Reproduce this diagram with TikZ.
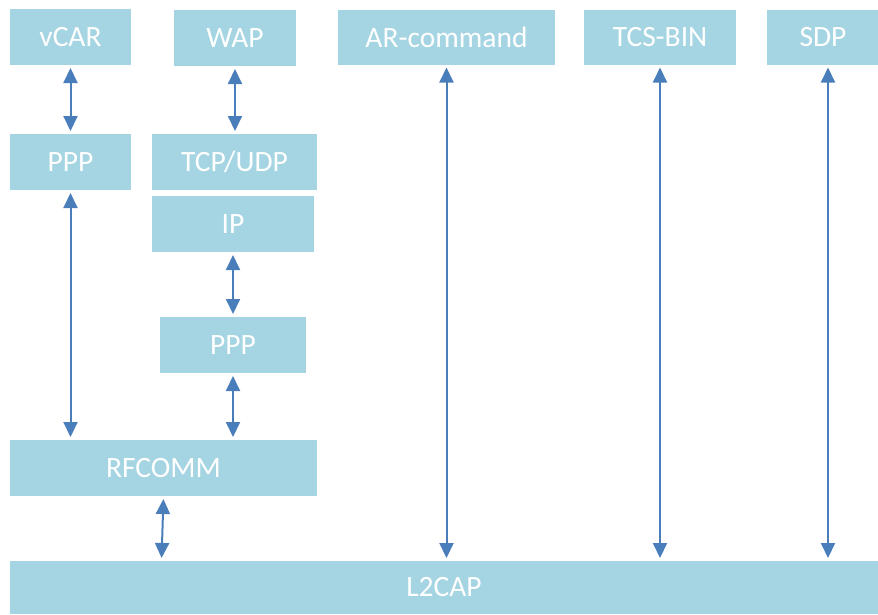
\documentclass[tikz,border=0pt]{standalone}
\usepackage{fontspec}
\setmainfont{Carlito}
\usetikzlibrary{arrows.meta}
\definecolor{boxblue}{HTML}{A5D5E2}
\definecolor{arrblue}{HTML}{4A7EBB}
\tikzset{
  layer/.style={fill=boxblue, text=white, inner sep=0pt, outer sep=0pt, font=\fontsize{29.5}{31}\selectfont},
  link/.style={draw=arrblue, line width=2pt, {Triangle[width=14pt,length=15pt]}-{Triangle[width=14pt,length=15pt]}, shorten <=3pt, shorten >=3pt}
}
\begin{document}
\begin{tikzpicture}[x=1pt,y=-1pt]
\useasboundingbox (0,0) rectangle (878,614);
% boxes (centre, size)
\node[layer, minimum width=121pt, minimum height=56pt] (vcar) at (70.5,37) {vCAR};
\node[layer, minimum width=122pt, minimum height=56pt] (wap) at (235,38) {WAP};
\node[layer, minimum width=217pt, minimum height=55pt] (ar) at (446.5,37) {AR-command};
\node[layer, minimum width=152pt, minimum height=55pt] (tcs) at (660,37) {TCS-BIN};
\node[layer, minimum width=112pt, minimum height=55pt] (sdp) at (823,37) {SDP};
\node[layer, minimum width=121pt, minimum height=56pt] (ppp1) at (70.5,162) {PPP};
\node[layer, minimum width=165pt, minimum height=56pt] (tcp) at (234.5,162) {TCP/UDP};
\node[layer, minimum width=162pt, minimum height=56pt] (ip) at (233,224) {IP};
\node[layer, minimum width=146pt, minimum height=56pt] (ppp2) at (233,345) {PPP};
\node[layer, minimum width=307pt, minimum height=56pt] (rfcomm) at (163.5,468) {RFCOMM};
\node[layer, minimum width=868pt, minimum height=53pt] (l2cap) at (444,587.5) {L2CAP};
% connectors
\draw[link] (vcar.south) -- (ppp1.north);
\draw[link] (wap.south) -- (wap.south |- tcp.north);
\draw[link] (ppp1.south) -- (ppp1.south |- rfcomm.north);
\draw[link] (ip.south) -- (ppp2.north);
\draw[link] (ppp2.south) -- (ppp2.south |- rfcomm.north);
\draw[link] (rfcomm.south) -- ([xshift=-2pt]rfcomm.south |- l2cap.north);
\draw[link] (ar.south) -- (ar.south |- l2cap.north);
\draw[link] (tcs.south) -- (tcs.south |- l2cap.north);
\draw[link] ([xshift=5pt]sdp.south) -- ([xshift=5pt]sdp.south |- l2cap.north);
\end{tikzpicture}
\end{document}
